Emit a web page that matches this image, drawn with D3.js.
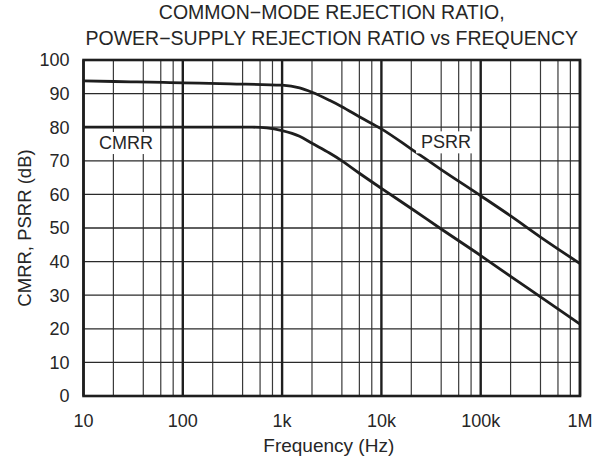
<!DOCTYPE html>
<html>
<head>
<meta charset="utf-8">
<script src="https://cdn.jsdelivr.net/npm/d3@7"></script>
<style>
  body { margin: 0; background: #fff; }
  text { font-family: "Liberation Sans", Arial, sans-serif; fill: #262626; }
</style>
</head>
<body>
<div id="plot"></div>
<script>
// frequency points (Hz)
const PSRR_F = [10, 30, 100, 300, 1000, 1500, 2000, 3000, 4000, 6000, 10000, 20000, 40000, 100000, 200000, 400000, 1000000];
const PSRR_DB = [93.8, 93.5, 93.2, 92.9, 92.5, 91.7, 90.4, 88.0, 86.1, 83.1, 79.5, 73.5, 67.4, 59.6, 53.6, 47.3, 39.4];

const CMRR_F = [10, 100, 500, 700, 1000, 1500, 2000, 3000, 4000, 6000, 10000, 20000, 40000, 100000, 200000, 400000, 1000000];
const CMRR_DB = [80, 80, 80, 79.8, 79.0, 77.3, 75.2, 72.3, 70.0, 66.3, 61.8, 55.8, 49.7, 41.8, 35.6, 29.5, 21.4];

const X_TICKS = [10, 100, 1000, 10000, 100000, 1000000];
const X_LABELS = ["10", "100", "1k", "10k", "100k", "1M"];
const X_MINOR = [2, 4, 6, 8];
const Y_TICKS = [0, 10, 20, 30, 40, 50, 60, 70, 80, 90, 100];

const TITLE = ["COMMON\u2212MODE REJECTION RATIO,", "POWER\u2212SUPPLY REJECTION RATIO vs FREQUENCY"];

let width = 603, height = 466;
let margin = {left: 83.5, right: 23, top: 60, bottom: 70};

let svg = d3.select("#plot").append("svg")
  .attr("width", width)
  .attr("height", height);

let x = d3.scaleLog()
  .domain([10, 1e6])
  .range([margin.left, width - margin.right]);

let y = d3.scaleLinear()
  .domain([0, 100])
  .range([height - margin.bottom, margin.top]);

// minor verticals
let minors = [];
X_TICKS.slice(0, -1).forEach(function(d) {
  X_MINOR.forEach(function(m) { minors.push(d * m); });
});

svg.append("g").selectAll("line")
  .data(minors)
  .enter().append("line")
    .attr("x1", d => x(d)).attr("x2", d => x(d))
    .attr("y1", y(0)).attr("y2", y(100))
    .attr("stroke", "#3a3a3a")
    .attr("stroke-width", 1.2);

// horizontal grid
svg.append("g").selectAll("line")
  .data(Y_TICKS)
  .enter().append("line")
    .attr("x1", x(10)).attr("x2", x(1e6))
    .attr("y1", d => y(d)).attr("y2", d => y(d))
    .attr("stroke", "#2a2a2a")
    .attr("stroke-width", 1.3);

// decade lines
svg.append("g").selectAll("line")
  .data(X_TICKS)
  .enter().append("line")
    .attr("x1", d => x(d)).attr("x2", d => x(d))
    .attr("y1", y(0)).attr("y2", y(100))
    .attr("stroke", "#1e1e1e")
    .attr("stroke-width", 2.4);

// frame
svg.append("rect")
  .attr("x", x(10)).attr("y", y(100))
  .attr("width", x(1e6) - x(10))
  .attr("height", y(0) - y(100))
  .attr("fill", "none")
  .attr("stroke", "#1e1e1e")
  .attr("stroke-width", 2.6);

// curves
let line = d3.line()
  .x(d => x(d[0]))
  .y(d => y(d[1]))
  .curve(d3.curveMonotoneX);

svg.append("path")
  .datum(d3.zip(PSRR_F, PSRR_DB))
  .attr("d", line)
  .attr("fill", "none")
  .attr("stroke", "#1e1e1e")
  .attr("stroke-width", 2.8);

svg.append("path")
  .datum(d3.zip(CMRR_F, CMRR_DB))
  .attr("d", line)
  .attr("fill", "none")
  .attr("stroke", "#1e1e1e")
  .attr("stroke-width", 2.8);

// curve labels with white box
function curveLabel(txt, f, db) {
  let g = svg.append("g");
  let t = g.append("text")
    .attr("x", x(f)).attr("y", y(db))
    .attr("text-anchor", "middle")
    .style("font-size", "18px")
    .text(txt);
  let b = t.node().getBBox();
  g.insert("rect", "text")
    .attr("x", b.x - 5).attr("y", b.y - 1)
    .attr("width", b.width + 10).attr("height", b.height + 2)
    .attr("fill", "#fff");
}
curveLabel("CMRR", 26.8, 73.5);
curveLabel("PSRR", 44800, 73.7);

// tick labels
svg.append("g").selectAll("text")
  .data(Y_TICKS)
  .enter().append("text")
    .attr("x", x(10) - 14)
    .attr("y", d => y(d))
    .attr("dy", "0.36em")
    .attr("text-anchor", "end")
    .style("font-size", "18px")
    .text(d => d);

svg.append("g").selectAll("text")
  .data(X_TICKS)
  .enter().append("text")
    .attr("x", d => x(d))
    .attr("y", y(0) + 31)
    .attr("text-anchor", "middle")
    .style("font-size", "18px")
    .text((d, i) => X_LABELS[i]);

// axis titles
svg.append("text")
  .attr("x", (x(10) + x(1e6)) / 2 - 3)
  .attr("y", 452)
  .attr("text-anchor", "middle")
  .style("font-size", "19px")
  .text("Frequency (Hz)");

svg.append("text")
  .attr("transform", "translate(31," + ((y(0) + y(100)) / 2) + ") rotate(-90)")
  .attr("text-anchor", "middle")
  .style("font-size", "18.5px")
  .text("CMRR, PSRR (dB)");

svg.append("g").selectAll("text")
  .data(TITLE)
  .enter().append("text")
    .attr("x", (x(10) + x(1e6)) / 2)
    .attr("y", (d, i) => 19 + i * 25.5)
    .attr("text-anchor", "middle")
    .style("font-size", "19.5px")
    .text(d => d);
</script>
</body>
</html>
